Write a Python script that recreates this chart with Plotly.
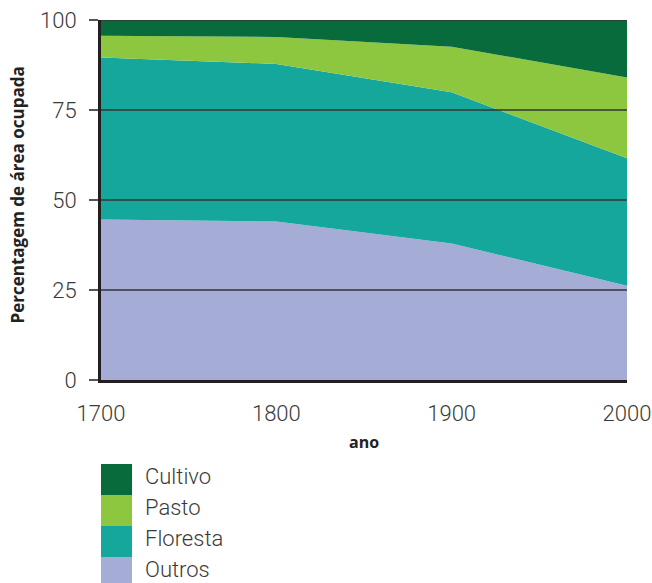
import plotly.graph_objects as go

# Land use share (%) by year
anos = [1700, 1800, 1900, 2000]
outros = [44.6, 44.0, 37.9, 26.2]
floresta = [45.0, 43.8, 42.0, 35.4]
pasto = [6.0, 7.5, 12.7, 22.4]
cultivo = [4.4, 4.7, 7.4, 16.0]

series = [
    ("Outros", outros, "#a5acd6"),
    ("Floresta", floresta, "#15a79b"),
    ("Pasto", pasto, "#8dc63f"),
    ("Cultivo", cultivo, "#076b3b"),
]

y_ticks = [0, 25, 50, 75, 100]
x_ticks = [1700, 1800, 1900, 2000]

fig = go.Figure()
for nome, vals, cor in series:
    fig.add_trace(go.Scatter(
        x=anos, y=vals, name=nome, stackgroup="uso",
        mode="lines", line=dict(width=0, color=cor),
        fillcolor=cor, hoverinfo="x+y+name",
    ))

tick_font = dict(family="Roboto", size=22, color="#3a3a3a", weight=300)
title_font = dict(family="Open Sans", size=17, color="#222222")

fig.update_layout(
    width=652, height=583,
    margin=dict(l=101, r=25, t=20, b=203),
    paper_bgcolor="white", plot_bgcolor="white",
    showlegend=False,
    xaxis=dict(
        range=[1700, 2000], tickvals=x_ticks, showgrid=False, zeroline=False,
        showline=True, linecolor="#231f20", linewidth=3, automargin=False,
        ticks="outside", ticklen=12, tickcolor="rgba(0,0,0,0)",
        tickfont=tick_font,
    ),
    yaxis=dict(
        range=[0, 100], tickvals=y_ticks, showgrid=False, zeroline=False,
        showline=True, linecolor="#231f20", linewidth=3, automargin=False,
        ticks="outside", ticklen=9, tickcolor="#555555", tickwidth=1.5,
        tickfont=tick_font, ticklabelstandoff=8,
    ),
)

# Gridlines drawn over the filled areas
for v in y_ticks[1:]:
    fig.add_shape(type="line", xref="paper", yref="y", x0=0, x1=1, y0=v, y1=v,
                  line=dict(color="#333333", width=1.5), layer="above")

# Axis titles
fig.add_annotation(text="<b>ano</b>", xref="paper", yref="paper", x=0.5, y=-0.172,
                   xanchor="center", yanchor="middle", showarrow=False,
                   font=dict(family="Open Sans", size=16, color="#222222"))
fig.add_annotation(text="<b>Percentagem de área ocupada</b>", xref="paper", yref="paper",
                   x=-0.158, y=0.515, xanchor="center", yanchor="middle",
                   textangle=-90, showarrow=False, font=title_font)

# Legend: colour boxes with labels, top to bottom
legend_items = list(reversed(series))
box_h = 31 / 360
top = -(464 - 20) / 360 + 1
for i, (nome, _, cor) in enumerate(legend_items):
    y1 = top - i * box_h
    y0 = y1 - box_h
    fig.add_shape(type="rect", xref="paper", yref="paper", x0=0, x1=31 / 526,
                  y0=y0, y1=y1, fillcolor=cor, line=dict(width=0))
    fig.add_annotation(text=nome, xref="paper", yref="paper", x=43 / 526,
                       y=(y0 + y1) / 2, xanchor="left", yanchor="middle",
                       yshift=3, borderpad=0, showarrow=False, font=tick_font)

fig.write_html("out.html")
